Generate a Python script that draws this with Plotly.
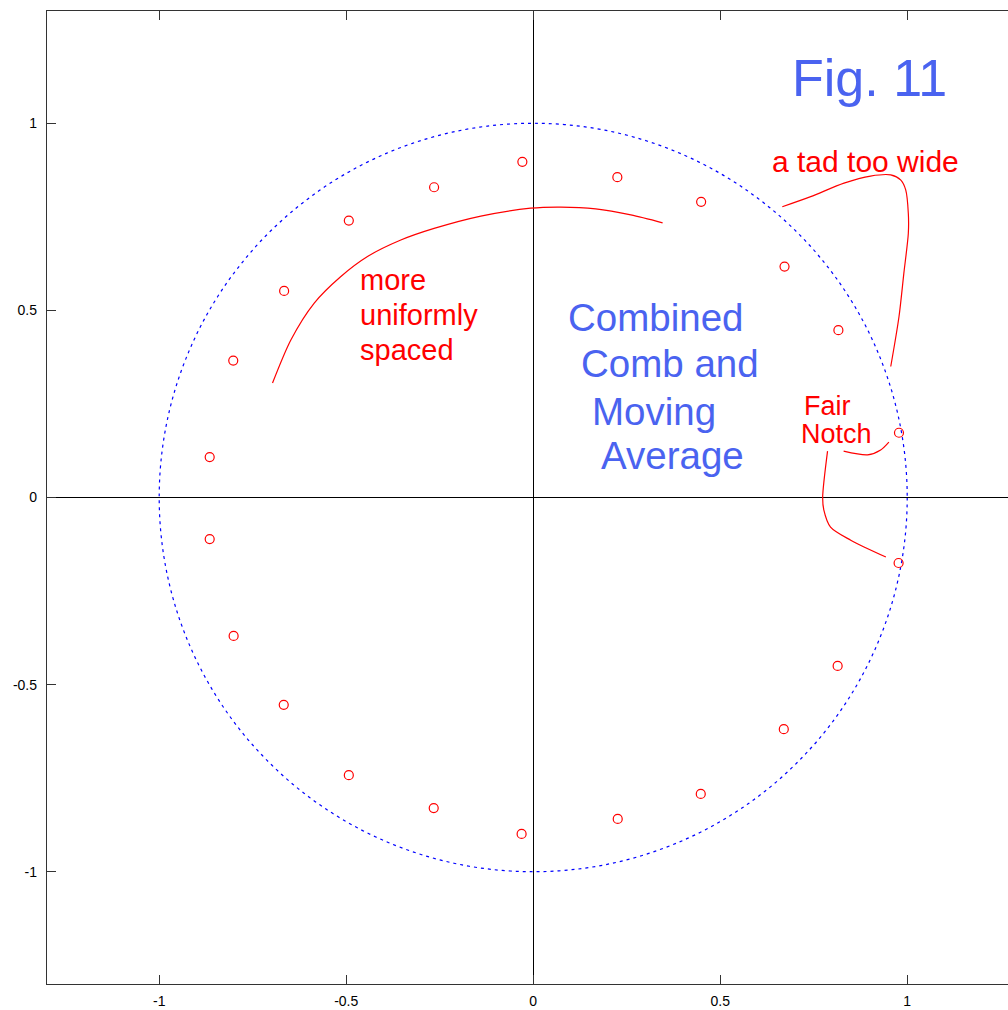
import plotly.graph_objects as go

# ---- data: zeros (red circles) ----
zero_x = [-0.029, 0.225, 0.449, 0.672, 0.816, 0.978, -0.265, -0.493, -0.666, -0.802, -0.865,
          -0.865, -0.801, -0.667, -0.493, -0.266, -0.031, 0.226, 0.448, 0.670, 0.814, 0.977]
zero_y = [0.897, 0.856, 0.790, 0.617, 0.447, 0.173, 0.829, 0.740, 0.552, 0.366, 0.108,
          -0.111, -0.370, -0.554, -0.742, -0.830, -0.899, -0.859, -0.792, -0.619, -0.450, -0.175]

# hand-drawn annotation strokes
arc_x = [-0.697, -0.648, -0.586, -0.515, -0.443, -0.354, -0.265, -0.140, -0.007, 0.074, 0.167, 0.261, 0.346]
arc_y = [0.306, 0.421, 0.519, 0.590, 0.644, 0.688, 0.719, 0.752, 0.773, 0.776, 0.771, 0.755, 0.734]

wide_x = [0.666, 0.742, 0.831, 0.902, 0.956, 0.983, 0.996, 1.003, 1.003, 0.991, 0.978, 0.956]
wide_y = [0.777, 0.804, 0.840, 0.859, 0.862, 0.848, 0.822, 0.759, 0.706, 0.599, 0.483, 0.350]

notch1_x = [0.830, 0.894, 0.929, 0.951]
notch1_y = [0.124, 0.114, 0.127, 0.148]

notch2_x = [0.787, 0.774, 0.777, 0.795, 0.849, 0.943]
notch2_y = [0.124, 0.001, -0.033, -0.079, -0.114, -0.159]

tick_vals = [-1, -0.5, 0, 0.5, 1]
tick_text = ["-1", "-0.5", "0", "0.5", "1"]

RED = "#ff0000"
BLUE_TXT = "#4a63f0"
FONT = "Liberation Sans, Arial, sans-serif"

fig = go.Figure()

for xs, ys in [(arc_x, arc_y), (wide_x, wide_y), (notch1_x, notch1_y), (notch2_x, notch2_y)]:
    fig.add_trace(go.Scatter(x=xs, y=ys, mode="lines",
                             line=dict(color=RED, width=1.2, shape="spline", smoothing=0.8),
                             hoverinfo="skip", showlegend=False))

fig.add_trace(go.Scatter(x=zero_x, y=zero_y, mode="markers",
                         marker=dict(symbol="circle-open", size=9, color=RED,
                                     line=dict(width=1.2, color=RED)),
                         showlegend=False))

# unit circle
fig.add_shape(type="circle", xref="x", yref="y", x0=-1, y0=-1, x1=1, y1=1,
              line=dict(color="#0000ff", width=1.2, dash="3px,4px"), layer="below")

texts = [
    ("Fig. 11", 0.686, 1.122, 52, BLUE_TXT),
    ("a tad too wide", 0.634, 0.899, 30, RED),
    ("more", -0.468, 0.582, 29, RED),
    ("uniformly", -0.468, 0.489, 29, RED),
    ("spaced", -0.468, 0.395, 29, RED),
    ("Combined", 0.089, 0.481, 38.5, BLUE_TXT),
    ("Comb and", 0.122, 0.357, 38.5, BLUE_TXT),
    ("Moving", 0.152, 0.230, 38.5, BLUE_TXT),
    ("Average", 0.175, 0.111, 38.5, BLUE_TXT),
    ("Fair", 0.718, 0.244, 27, RED),
    ("Notch", 0.710, 0.170, 27, RED),
]
for t, x, y, s, c in texts:
    fig.add_annotation(text=t, x=x, y=y, xref="x", yref="y", xanchor="left", yanchor="middle",
                       showarrow=False, font=dict(family=FONT, size=s, color=c))

axis_common = dict(
    tickvals=tick_vals, ticktext=tick_text, ticks="inside", ticklen=9, tickwidth=1,
    tickcolor="#333333", showline=True, linecolor="#333333", linewidth=1.3,
    showgrid=False, zeroline=True, zerolinecolor="#000000", zerolinewidth=1,
    tickfont=dict(family=FONT, size=14, color="#000000"),
)
fig.update_xaxes(range=[-1.3, 1.2695], mirror="ticks", ticklabelstandoff=4, **axis_common)
fig.update_yaxes(range=[-1.3, 1.3], mirror=False, ticklabelstandoff=6, **axis_common)

fig.update_layout(width=1008, height=1010, margin=dict(l=47, r=0, t=11, b=26),
                  plot_bgcolor="white", paper_bgcolor="white", showlegend=False,
                  font=dict(family=FONT))

fig.write_html("out.html")
